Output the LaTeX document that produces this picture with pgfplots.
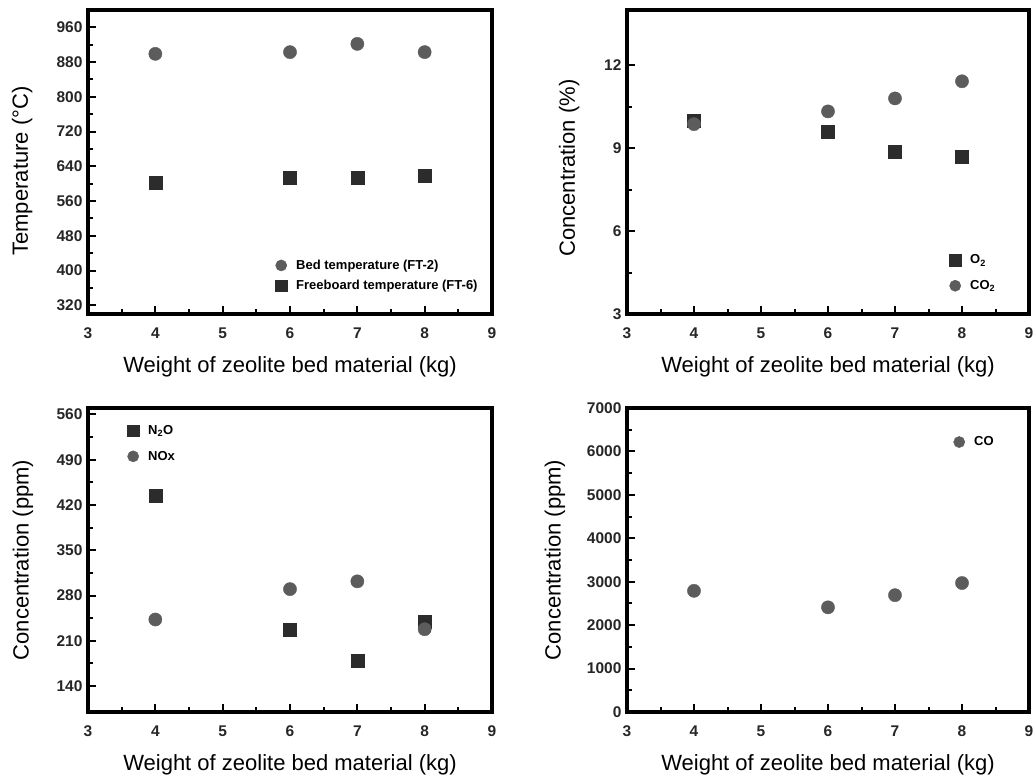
\documentclass[border=0pt]{standalone}
\usepackage{fontspec}
\setmainfont{Liberation Sans}
\usepackage{pgfplots}
\pgfplotsset{compat=1.18}
\definecolor{circ}{HTML}{5C5C5C}
\definecolor{sq}{HTML}{2C2C2C}
\pgfplotsset{
 myax/.style={
  scale only axis, height=304pt,
  xmin=3, xmax=9, xtick={3,...,9}, minor x tick num=1,
  tick align=inside, xtick pos=bottom, ytick pos=left,
  axis line style={line width=3.2pt},
  major tick length=8pt, minor tick length=5pt,
  every tick/.style={line width=2pt, black},
  /pgf/number format/assume math mode=true,
  /pgf/number format/set thousands separator={},
  scaled ticks=false,
  tick label style={font=\fontsize{15.5}{17}\selectfont\bfseries, text=black!85},
  xticklabel style={yshift=-10pt},
  yticklabel style={xshift=-2pt},
  xlabel={Weight of zeolite bed material (kg)},
  xlabel style={at={(axis description cs:0.5,-0.175)}, anchor=center, font=\fontsize{22}{26}\selectfont},
  ylabel style={font=\fontsize{22}{26}\selectfont},
  legend style={draw=none, fill=none, font=\fontsize{13}{15}\selectfont\bfseries, anchor=west, row sep=5pt, inner sep=0pt},
  legend cell align=left,
  legend image code/.code={\path[draw=none,fill=none] (-6pt,0pt) rectangle (13pt,0.1pt); \draw[#1, mark size=5.6pt] plot coordinates {(0pt,0pt)};},
 },
 circ/.style={only marks, mark=*, mark size=6.6pt, color=circ, fill=circ},
 sqr/.style={only marks, mark=square*, mark size=6.5pt, color=sq, fill=sq},
}
\begin{document}
\begin{tikzpicture}
\useasboundingbox (0,0) rectangle (1034pt,777pt);
% Panel 1
\begin{axis}[myax, at={(88pt,463pt)}, anchor=south west, width=404pt,
  ymin=300, ymax=1000, ytick={320,400,...,960}, minor y tick num=1,
  ylabel={Temperature (°C)},
  ylabel style={at={(axis description cs:-0.163,0.47)}, anchor=center},
  legend style={at={(axis description cs:0.463,0.127)}, row sep=5pt}]
\addplot[circ] coordinates {(4,899) (6,903) (7,922) (8,903)};
\addlegendentry{Bed temperature (FT-2)}
\addplot[sqr] coordinates {(4,603) (6,613) (7,613) (8,619)};
\addlegendentry{Freeboard temperature (FT-6)}
\end{axis}
% Panel 2
\begin{axis}[myax, at={(627pt,463pt)}, anchor=south west, width=402pt,
  ymin=3, ymax=14, ytick={3,6,9,12}, minor y tick num=1,
  ylabel={Concentration (\%)},
  ylabel style={at={(axis description cs:-0.144,0.48)}, anchor=center},
  legend style={at={(axis description cs:0.801,0.135)}, row sep=11pt}]
\addplot[sqr] coordinates {(4,10.0) (6,9.6) (7,8.87) (8,8.68)};
\addlegendentry{O\textsubscript{2}}
\addplot[circ] coordinates {(4,9.87) (6,10.33) (7,10.8) (8,11.42)};
\addlegendentry{CO\textsubscript{2}}
\end{axis}
% Panel 3
\begin{axis}[myax, at={(88pt,65pt)}, anchor=south west, width=404pt,
  ymin=100, ymax=570, ytick={140,210,...,560}, minor y tick num=1,
  ylabel={Concentration (ppm)},
  ylabel style={at={(axis description cs:-0.161,0.5)}, anchor=center},
  legend style={at={(axis description cs:0.0965,0.883)}, row sep=11pt}]
\addplot[sqr] coordinates {(4,434) (6,228) (7,179) (8,239)};
\addlegendentry{N\textsubscript{2}O}
\addplot[circ] coordinates {(4,243) (6,290) (7,302) (8,228)};
\addlegendentry{NOx}
\end{axis}
% Panel 4
\begin{axis}[myax, at={(627pt,65pt)}, anchor=south west, width=402pt,
  ymin=0, ymax=7000, ytick={0,1000,...,7000}, minor y tick num=1,
  ylabel={Concentration (ppm)},
  ylabel style={at={(axis description cs:-0.179,0.5)}, anchor=center},
  legend style={at={(axis description cs:0.811,0.888)}}]
\addplot[circ] coordinates {(4,2790) (6,2410) (7,2690) (8,2970)};
\addlegendentry{CO}
\end{axis}
\end{tikzpicture}
\end{document}
